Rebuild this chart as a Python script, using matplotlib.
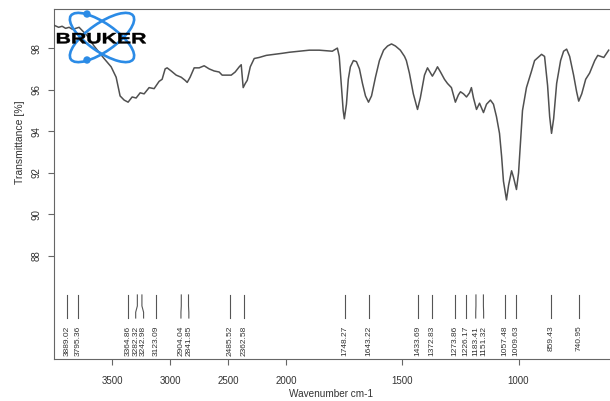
import numpy as np
import matplotlib
matplotlib.use("Agg")
from matplotlib import pyplot as plt
from matplotlib.patches import Ellipse, Circle, PathPatch
from matplotlib.textpath import TextPath
from matplotlib.font_manager import FontProperties
from matplotlib.transforms import Affine2D, IdentityTransform

# spectrum (wavenumber cm-1, transmittance %)
wavenumber = [4000, 3960, 3930, 3900, 3870, 3840, 3784, 3715, 3655, 3569, 3508,
              3465, 3431, 3396, 3362, 3327, 3293, 3258, 3224, 3181, 3138, 3095,
              3069, 3043, 3026, 2991, 2948, 2905, 2871, 2853, 2828, 2793, 2750,
              2707, 2664, 2621, 2578, 2552, 2509, 2474, 2440, 2405, 2388, 2371,
              2353, 2336, 2310, 2276, 2233, 2172, 2103, 2034, 1987, 1944, 1901,
              1858, 1802, 1780, 1772, 1763, 1755, 1750, 1741, 1733, 1724, 1711,
              1698, 1685, 1672, 1659, 1646, 1633, 1616, 1599, 1581, 1564, 1547,
              1530, 1509, 1491, 1483, 1470, 1453, 1435, 1423, 1405, 1392, 1384,
              1371, 1358, 1349, 1336, 1319, 1306, 1289, 1272, 1259, 1250, 1237,
              1224, 1211, 1203, 1194, 1181, 1168, 1151, 1138, 1121, 1108, 1095,
              1082, 1073, 1065, 1052, 1043, 1030, 1022, 1009, 1000, 991, 983,
              966, 944, 931, 901, 888, 875, 866, 858, 849, 836, 819, 806, 793,
              780, 763, 750, 741, 728, 711, 694, 672, 659, 633, 612]
transmittance = [99.1, 99.0, 99.05, 98.95, 99.0, 98.9, 99.0, 98.6, 98.1, 97.5, 97.1,
                 96.6, 95.7, 95.5, 95.4, 95.65, 95.6, 95.85, 95.8, 96.1, 96.05, 96.4,
                 96.5, 97.0, 97.05, 96.9, 96.7, 96.6, 96.45, 96.35, 96.6, 97.05, 97.05,
                 97.15, 97.0, 96.9, 96.85, 96.7, 96.7, 96.7, 96.85, 97.1, 97.2, 96.1,
                 96.3, 96.45, 97.1, 97.5, 97.55, 97.65, 97.7, 97.75, 97.8, 97.85, 97.9,
                 97.9, 97.85, 98.0, 97.6, 96.2, 95.0, 94.6, 95.3, 96.5, 97.1, 97.4,
                 97.35, 97.0, 96.3, 95.7, 95.4, 95.7, 96.6, 97.4, 97.9, 98.1, 98.2,
                 98.1, 97.9, 97.6, 97.4, 96.8, 95.8, 95.05, 95.6, 96.7, 97.05, 96.9,
                 96.65, 96.9, 97.1, 96.85, 96.5, 96.3, 96.1, 95.4, 95.75, 95.9, 95.8,
                 95.65, 95.85, 96.1, 95.6, 95.05, 95.35, 94.9, 95.3, 95.5, 95.3, 94.7,
                 93.9, 92.8, 91.6, 90.7, 91.4, 92.1, 91.8, 91.2, 92.0, 93.6, 95.0,
                 96.1, 96.9, 97.4, 97.7, 97.6, 96.2, 94.7, 93.9, 94.6, 96.3, 97.4, 97.85, 97.95,
                 97.6, 96.7, 95.9, 95.45, 95.8, 96.5, 96.8, 97.4, 97.65, 97.55, 97.9]

peak_positions = [3889.02, 3795.36, 3364.86, 3282.32, 3242.98, 3123.09, 2904.04,
                  2841.85, 2485.52, 2362.58, 1748.27, 1643.22, 1433.69, 1372.83,
                  1273.86, 1226.17, 1183.41, 1151.32, 1057.48, 1009.63, 859.43, 740.95]
x_ticks = [3500, 3000, 2500, 2000, 1500, 1000]
y_ticks = [88, 90, 92, 94, 96, 98]

BREAK = 2000.0


def forward(x):
    x = np.asarray(x, dtype=float)
    return np.where(x > BREAK, BREAK + (x - BREAK) / 2.0, x)


def inverse(t):
    t = np.asarray(t, dtype=float)
    return np.where(t > BREAK, BREAK + (t - BREAK) * 2.0, t)


def spread(positions, gap):
    # push label positions apart (in scale units) so they don't overlap
    s = [-float(forward(p)) for p in positions]
    for _ in range(200):
        moved = False
        for i in range(len(s) - 1):
            d = s[i + 1] - s[i]
            if d < gap - 1e-6:
                push = (gap - d) / 2.0
                s[i] -= push
                s[i + 1] += push
                moved = True
        if not moved:
            break
    return [float(inverse(-v)) for v in s]


plt.rcParams['font.family'] = ['Liberation Sans', 'DejaVu Sans']
text_color = '#333333'
axis_color = '#666666'

fig = plt.figure(figsize=(6.10, 4.01), dpi=100)
ax = fig.add_axes([54 / 610, 42 / 401, 557 / 610, 350 / 401])
ax.set_xscale('function', functions=(forward, inverse))
ax.set_xlim(4000, 602)
ax.set_ylim(83.05, 99.88)

ax.plot(wavenumber, transmittance, color='#505050', lw=1.1, zorder=3)

# peak markers
label_x = spread(peak_positions, 34)
for p, lx in zip(peak_positions, label_x):
    ax.plot([p, p, lx, lx], [86.13, 85.6, 85.3, 85.02], color='#555555', lw=0.8)
    ax.text(lx, 84.65, f"{p:.2f}", rotation=90, ha='center', va='top',
            fontsize=6, color=text_color)

ax.set_xticks(x_ticks)
ax.set_xticklabels([str(v) for v in x_ticks])
ax.set_yticks(y_ticks)
ax.set_yticklabels([str(v) for v in y_ticks], rotation=90, va='center')
ax.minorticks_off()
ax.tick_params(axis='x', direction='out', length=4, width=0.8, color=axis_color,
               labelsize=7, labelcolor=text_color, pad=8)
ax.tick_params(axis='y', direction='out', length=4, width=0.8, color=axis_color,
               labelsize=7, labelcolor=text_color, pad=5)
for sp in ax.spines.values():
    sp.set_color(axis_color)
    sp.set_linewidth(0.8)

ax.set_xlabel("Wavenumber cm-1", fontsize=7.2, color=text_color)
ax.xaxis.set_label_coords(0.497, -0.086)
ax.set_ylabel("Transmittance [%]", fontsize=7.5, color=text_color, va='center')
ax.yaxis.set_label_coords(-0.061, 0.62)

# BRUKER logo, in pixel coordinates from the top-left corner
to_px = Affine2D().scale(1, -1).translate(0, 401)
logo_blue = '#2b8be6'
for ang in (35, -35):
    fig.add_artist(Ellipse((102, 37.5), 76, 28, angle=ang, fill=False,
                           ec=logo_blue, lw=1.9, transform=to_px, zorder=10))
for cy in (14, 60):
    fig.add_artist(Circle((87, cy), 3, color=logo_blue, transform=to_px, zorder=10))

tp = TextPath((0, 0), "BRUKER", size=20,
              prop=FontProperties(family='Liberation Sans', weight='bold'))
ext = tp.get_extents()
fit = (Affine2D().translate(-ext.x0, -ext.y0)
       .scale(89 / ext.width, 10.5 / ext.height)
       .translate(57, 401 - 43.5))
fig.add_artist(PathPatch(fit.transform_path(tp), fc='black', ec='black', lw=0.3,
                         transform=IdentityTransform(), zorder=11))

fig.savefig("out.png", dpi=100)
